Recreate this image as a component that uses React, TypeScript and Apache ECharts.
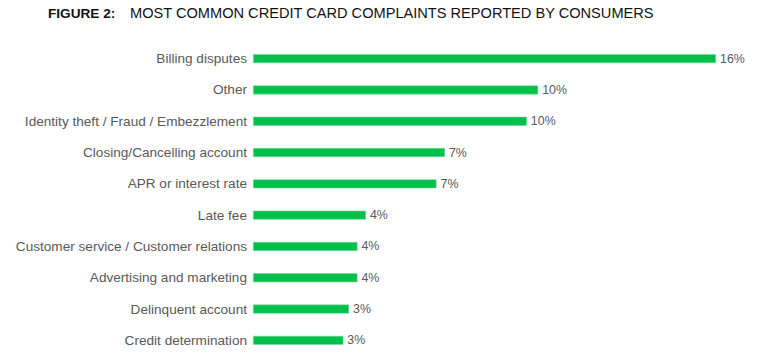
import React, { useEffect, useRef } from "react";
import * as echarts from "echarts";

const categories = [
  "Billing disputes",
  "Other",
  "Identity theft / Fraud / Embezzlement",
  "Closing/Cancelling account",
  "APR or interest rate",
  "Late fee",
  "Customer service / Customer relations",
  "Advertising and marketing",
  "Delinquent account",
  "Credit determination",
];
const values = [16.4, 10.1, 9.7, 6.8, 6.5, 4.0, 3.7, 3.7, 3.4, 3.2];

const titleLead = "FIGURE 2:";
const titleText = "MOST COMMON CREDIT CARD COMPLAINTS REPORTED BY CONSUMERS";

export default function App() {
  const ref = useRef<HTMLDivElement>(null);
  useEffect(() => {
    if (!ref.current) return;
    const chart = echarts.init(ref.current, undefined, { renderer: "svg" });
    chart.setOption({
      animation: false,
      backgroundColor: "#ffffff",
      title: {
        left: 125,
        top: 0,
        text: titleText,
        textStyle: {
          fontFamily: "'Liberation Sans', Arial, sans-serif",
          fontWeight: "normal",
          fontSize: 14.6,
          color: "#111111",
        },
      },
      graphic: [
        {
          type: "text",
          x: 48,
          y: 13,
          style: {
            text: titleLead,
            fontFamily: "'Liberation Sans', Arial, sans-serif",
            fontWeight: "bold",
            fontSize: 13.6,
            fill: "#111111",
            verticalAlign: "middle",
          },
        },
      ],
      grid: { left: 253, top: 43, width: 463, height: 315 },
      xAxis: {
        type: "value",
        min: 0,
        max: 16.4,
        show: false,
      },
      yAxis: {
        type: "category",
        data: categories,
        inverse: true,
        axisLine: { show: false },
        axisTick: { show: false },
        axisLabel: {
          margin: 6,
          fontFamily: "'Liberation Sans', Arial, sans-serif",
          fontSize: 13.6,
          color: "#595959",
        },
      },
      series: [
        {
          type: "bar",
          data: values,
          barWidth: 9,
          itemStyle: { color: "#00c04b", borderColor: "#7ddc9a", borderWidth: 0.6 },
          label: {
            show: true,
            position: "right",
            distance: 4,
            formatter: (p: any) => Math.round(p.value) + "%",
            fontFamily: "'Liberation Sans', Arial, sans-serif",
            fontSize: 12.4,
            color: "#595959",
          },
        },
      ],
    });
    return () => chart.dispose();
  }, []);
  return <div ref={ref} style={{ width: 757, height: 356, margin: -8 }} />;
}
